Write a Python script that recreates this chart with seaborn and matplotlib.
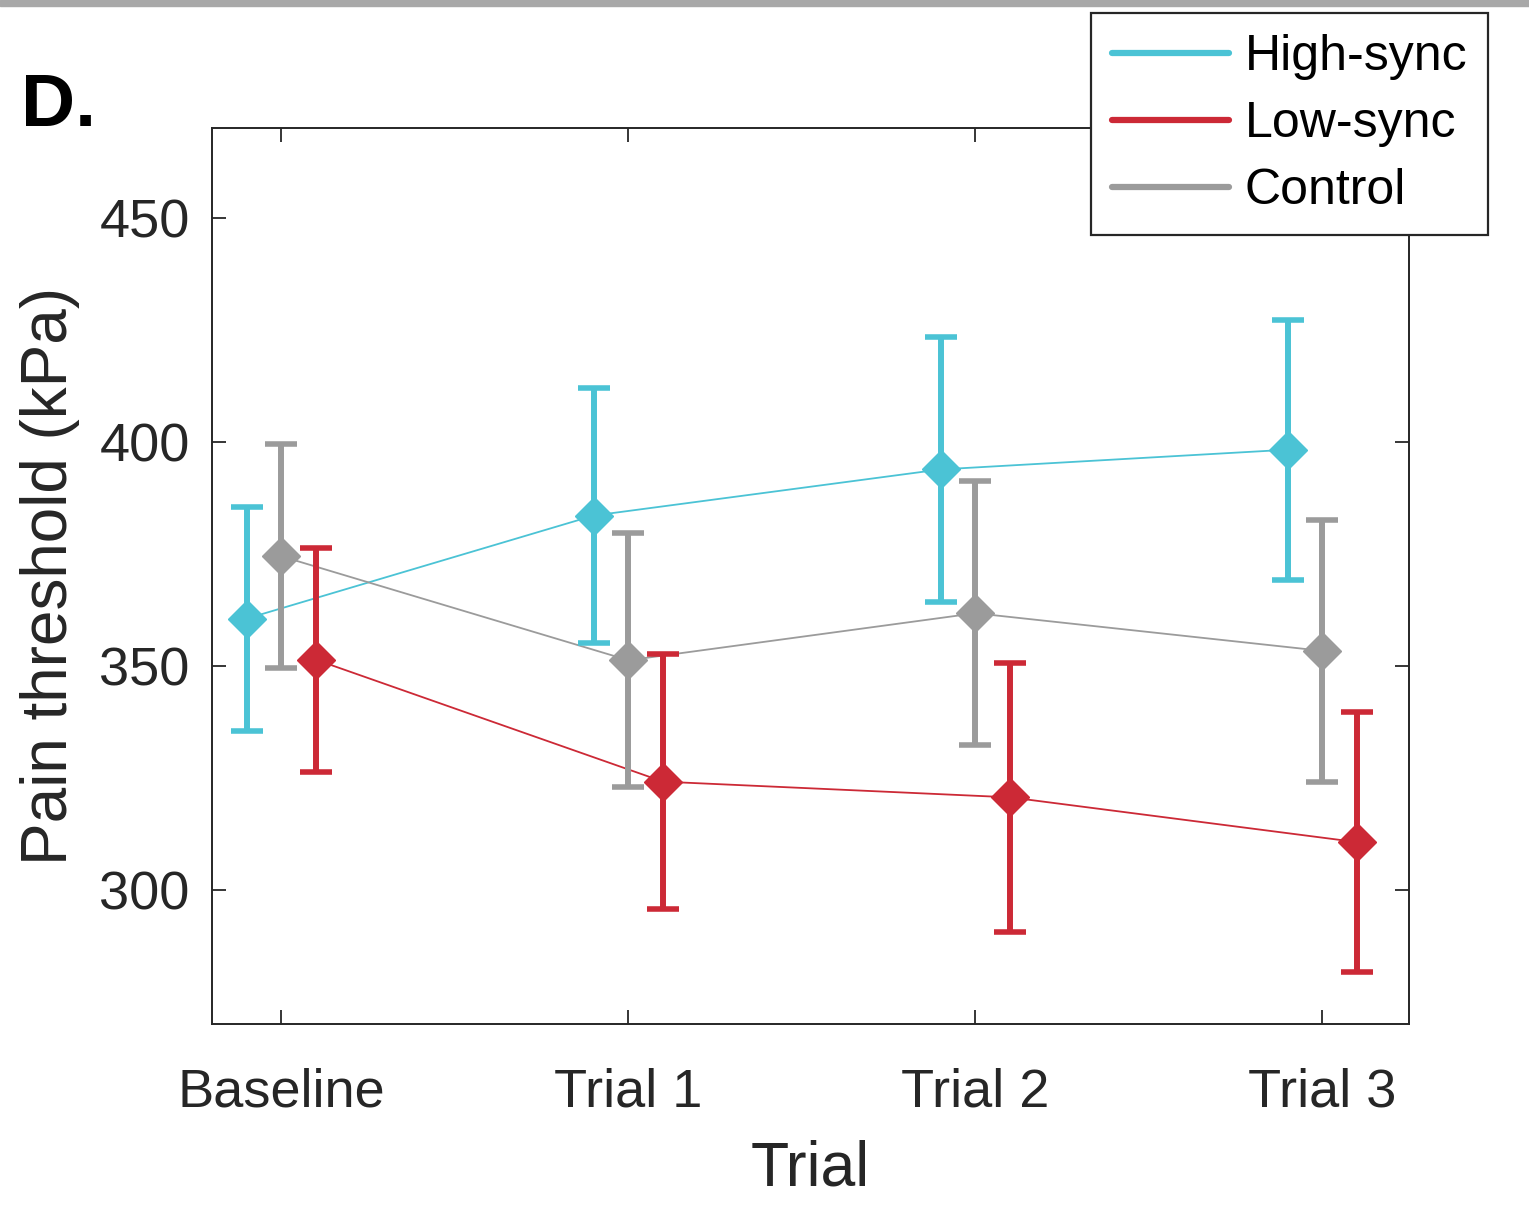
import numpy as np
import pandas as pd
import seaborn as sns
import matplotlib.pyplot as plt
from matplotlib.lines import Line2D
from matplotlib.patches import Rectangle

# values
trials = ['Baseline', 'Trial 1', 'Trial 2', 'Trial 3']
groups = ['High-sync', 'Low-sync', 'Control']
high_mean = [360.5, 383.5, 393.8, 398.2]
high_err = [25.0, 28.5, 29.6, 29.0]
low_mean = [351.3, 324.1, 320.6, 310.6]
low_err = [25.0, 28.4, 30.0, 29.0]
ctrl_mean = [374.4, 351.2, 361.7, 353.3]
ctrl_err = [25.0, 28.4, 29.5, 29.2]

colors = {'High-sync': '#4bc3d5', 'Low-sync': '#cc2936', 'Control': '#9b9b9b'}
offsets = {'High-sync': -0.1, 'Low-sync': 0.1, 'Control': 0.0}

rows = []
for g, m, e in [('High-sync', high_mean, high_err),
                ('Low-sync', low_mean, low_err),
                ('Control', ctrl_mean, ctrl_err)]:
    for i, t in enumerate(trials):
        rows.append({'group': g, 'trial': t, 'pos': i + 1 + offsets[g],
                     'mean': m[i], 'err': e[i]})
df = pd.DataFrame(rows)

sns.set_theme(style='ticks')
plt.rcParams['font.family'] = ['Liberation Sans', 'DejaVu Sans']

fig = plt.figure(figsize=(15.29, 12.08), dpi=100)
ax = fig.add_axes([0.1387, 0.1523, 0.7829, 0.7417])

# thin connecting lines
sns.lineplot(data=df, x='pos', y='mean', hue='group', hue_order=groups,
             palette=colors, linewidth=1.3, legend=False, ax=ax, zorder=2)

# error bars with diamond markers
for g in ['Control', 'High-sync', 'Low-sync']:
    sub = df[df['group'] == g]
    ax.errorbar(sub['pos'], sub['mean'], yerr=sub['err'], fmt='D',
                color=colors[g], ms=19, elinewidth=4.3, capsize=11.5,
                capthick=4.0, linestyle='none', zorder=3)

ax.set_xlim(0.8, 4.25)
ax.set_ylim(270, 470)
ax.set_xticks(range(1, 5))
ax.set_xticklabels(trials)
ax.set_yticks([300, 350, 400, 450])
ax.set_xlabel('Trial', fontsize=45, color='#262626', labelpad=16)
ax.set_ylabel('Pain threshold (kPa)', fontsize=46, color='#262626', labelpad=14)
ax.tick_params(direction='in', length=10, width=1.3, colors='#262626',
               labelsize=39, top=True, right=True)
ax.tick_params(axis='x', pad=31)
ax.tick_params(axis='y', pad=16)
for s in ax.spines.values():
    s.set_visible(True)
    s.set_linewidth(1.4)
    s.set_color('#262626')

handles = [Line2D([0], [0], color=colors[g], lw=4.5) for g in groups]
leg = fig.legend(handles, groups, loc='upper left',
                 bbox_to_anchor=(0.7135, 0.989), bbox_transform=fig.transFigure,
                 fontsize=36, frameon=True, fancybox=False, framealpha=1,
                 edgecolor='#262626', handlelength=2.35, handletextpad=0.3,
                 labelspacing=0.42, borderpad=0.42, borderaxespad=0)
leg.get_frame().set_linewidth(1.6)
for txt in leg.get_texts():
    txt.set_color('black')

fig.text(0.014, 0.896, 'D.', fontsize=54, fontweight='bold', color='black')

# grey band at the very top of the screenshot
fig.patches.append(Rectangle((0, 0.995), 1, 0.005, transform=fig.transFigure,
                             color='#a8a8a8', zorder=0))

fig.savefig('out.png', dpi=100)
